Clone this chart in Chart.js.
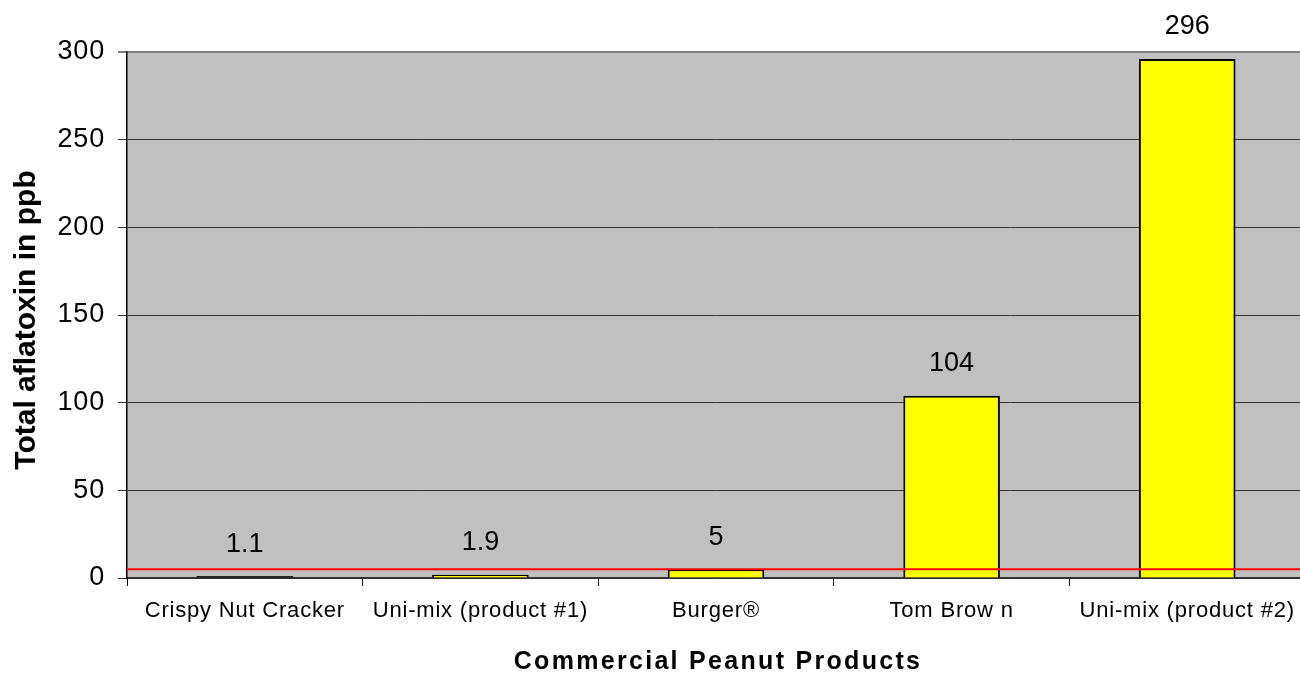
<!DOCTYPE html>
<html>
<head>
<meta charset="utf-8">
<script src="https://cdn.jsdelivr.net/npm/chart.js@4/dist/chart.umd.min.js"></script>
<style>
html,body{margin:0;padding:0;background:#fff;overflow:hidden;}
#wrap{width:1300px;height:674px;position:relative;overflow:hidden;}
canvas{display:block;}
</style>
</head>
<body>
<div id="wrap"><canvas id="c" width="1305" height="674"></canvas></div>
<script>
const categories = ["Crispy Nut Cracker", "Uni-mix (product #1)", "Burger\u00AE", "Tom Brow n", "Uni-mix (product #2)"];
const aflatoxinValues = [1.1, 1.9, 5, 104, 296];
const valueLabels = ["1.1", "1.9", "5", "104", "296"];
const barColors = ["#000000", "#FFFF00", "#FFFF00", "#FFFF00", "#FFFF00"];
const limitValue = [5];
const yTicks = [0, 50, 100, 150, 200, 250, 300];
const xTitle = "Commercial Peanut Products";
const yTitle = "Total aflatoxin in ppb";

const FONT = "'Liberation Sans', Arial, sans-serif";

const bgPlugin = {
  id: 'bg',
  beforeDraw(chart) {
    const {ctx, chartArea: a} = chart;
    ctx.letterSpacing = '0.8px';
    ctx.save();
    ctx.fillStyle = '#C0C0C0';
    ctx.fillRect(a.left, a.top, a.right - a.left, a.bottom - a.top);
    ctx.restore();
  }
};

const limitPlugin = {
  id: 'limit',
  afterDatasetsDraw(chart) {
    const {ctx, chartArea: a, scales} = chart;
    ctx.save();
    limitValue.forEach(v => {
      const y = scales.y.getPixelForValue(v);
      ctx.strokeStyle = '#FF0000';
      ctx.lineWidth = 2;
      ctx.beginPath();
      ctx.moveTo(a.left, y);
      ctx.lineTo(a.right, y);
      ctx.stroke();
    });
    ctx.restore();
  }
};

const labelPlugin = {
  id: 'vlabels',
  afterDraw(chart) {
    const {ctx, chartArea: a} = chart;
    const meta = chart.getDatasetMeta(0);
    ctx.save();
    ctx.letterSpacing = '0px';
    ctx.fillStyle = '#000';
    ctx.font = '27px ' + FONT;
    ctx.textAlign = 'center';
    ctx.textBaseline = 'middle';
    meta.data.forEach((bar, i) => {
      ctx.fillText(valueLabels[i], bar.x, bar.y - 32);
    });
    ctx.letterSpacing = '2.3px';
    ctx.font = 'bold 25px ' + FONT;
    ctx.fillText(xTitle, 718, 662);
    ctx.letterSpacing = '0px';
    ctx.translate(27, (a.top + a.bottom) / 2 + 5);
    ctx.rotate(-Math.PI / 2);
    ctx.font = 'bold 30px ' + FONT;
    ctx.fillText(yTitle, 0, 0);
    ctx.restore();
  }
};

new Chart(document.getElementById('c'), {
  type: 'bar',
  data: {
    labels: categories,
    datasets: [{
      data: aflatoxinValues,
      backgroundColor: barColors,
      borderColor: '#000000',
      borderWidth: 2,
      barPercentage: 0.41,
      categoryPercentage: 1.0
    }]
  },
  options: {
    responsive: false,
    animation: false,
    devicePixelRatio: 1,
    layout: {padding: {top: 52, right: 0, bottom: 0, left: 0}},
    plugins: {legend: {display: false}, tooltip: {enabled: false}},
    scales: {
      x: {
        afterFit(s) { s.height = 96; },
        grid: {display: true, drawOnChartArea: false, offset: true, color: '#000', tickLength: 8, lineWidth: 1},
        border: {display: true, color: '#333', width: 1.5},
        ticks: {color: '#000', font: {family: FONT, size: 22}, padding: 12, maxRotation: 0, autoSkip: false}
      },
      y: {
        min: 0, max: 300,
        afterFit(s) { s.width = 127; },
        afterBuildTicks(s) { s.ticks = yTicks.map(v => ({value: v})); },
        grid: {
          color: (c) => (c.tick && c.tick.value === 300) ? '#808080' : '#333',
          lineWidth: (c) => (c.tick && c.tick.value === 300) ? 2 : 1,
          tickLength: 9
        },
        border: {display: true, color: '#000', width: 1.5},
        ticks: {color: '#000', font: {family: FONT, size: 27}, padding: 13}
      }
    }
  },
  plugins: [bgPlugin, limitPlugin, labelPlugin]
});
</script>
</body>
</html>
